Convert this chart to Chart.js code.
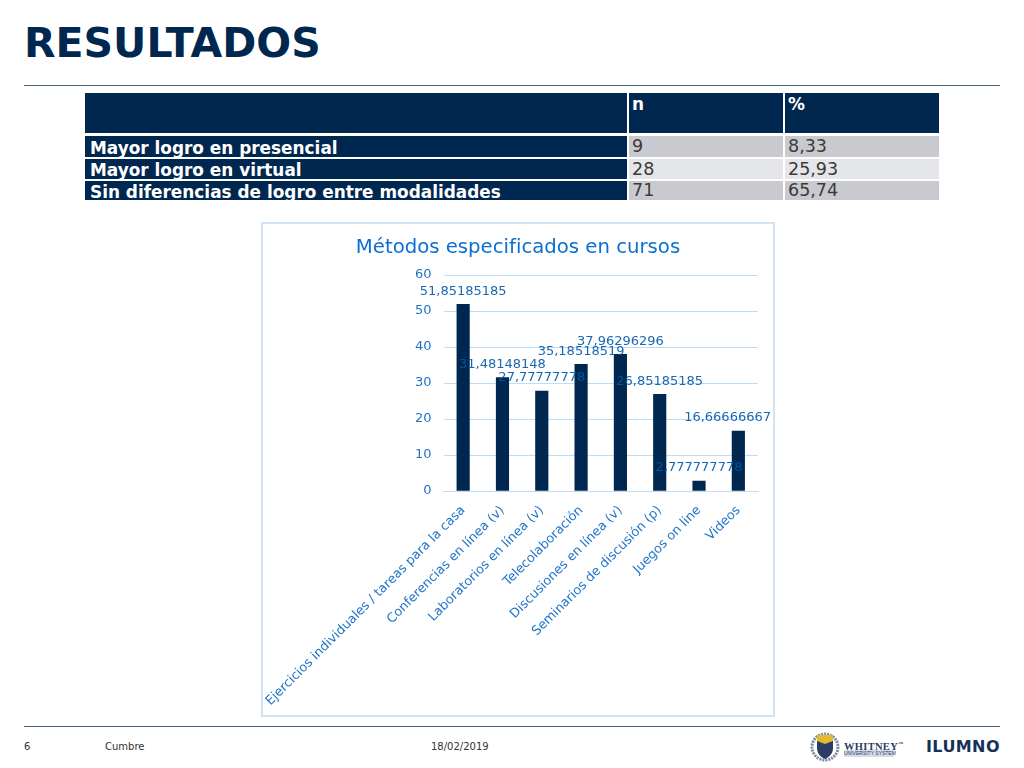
<!DOCTYPE html>
<html lang="es">
<head>
<meta charset="utf-8">
<title>Resultados</title>
<script src="https://cdn.jsdelivr.net/npm/chart.js@4"></script>
<style>
html, body { margin: 0; padding: 0; background: #fff; }
body { width: 1024px; height: 768px; position: relative; overflow: hidden; font-family: "DejaVu Sans", sans-serif; }
#heading { position: absolute; left: 24px; top: 18px; font-size: 41px; line-height: 50px; font-weight: bold; color: #00274f; }
.rule { position: absolute; left: 24px; width: 976px; height: 1px; background: #4a6480; }
#results { position: absolute; left: 85px; top: 93px; width: 854px; height: 108px; }
.cell { position: absolute; box-sizing: border-box; padding-left: 3px; font-size: 17.5px; color: #3a3a3a; white-space: nowrap; }
.cell.head { background: #00274f; color: #fff; font-weight: bold; font-size: 16.9px; }
.cell.rowName { padding-left: 5px; }
#chartBox { position: absolute; left: 261px; top: 222px; width: 510px; height: 491px; border: 2px solid #cfe3f5; }
#chartBox canvas { display: block; }
.foot { position: absolute; top: 741px; font-size: 10px; color: #333; }
#crest { position: absolute; left: 810px; top: 732px; }
#whitney { position: absolute; left: 844px; top: 738px; font-family: "Liberation Serif", serif; font-size: 10.5px; font-weight: bold; color: #2b3d63; letter-spacing: 0.3px; line-height: 11px; }
#whitneySub { position: absolute; left: 844px; top: 750px; width: 50px; font-family: "Liberation Sans", sans-serif; font-size: 5px; line-height: 7px; text-align: center; color: #2b3d63; background: #d5dbe6; white-space: nowrap; }
#ilumno { position: absolute; left: 926px; top: 737px; font-size: 16px; line-height: 20px; font-weight: bold; color: #16325a; letter-spacing: 0.4px; }
</style>
</head>
<body>
<div id="heading">RESULTADOS</div>
<div class="rule" style="top:85px"></div>
<div id="results"></div>
<div id="chartBox"><canvas id="myChart" width="510" height="491"></canvas></div>
<div class="rule" style="top:726px"></div>
<div class="foot" style="left:24px">6</div>
<div class="foot" style="left:105px">Cumbre</div>
<div class="foot" style="left:431px">18/02/2019</div>
<svg id="crest" width="30" height="30" viewBox="0 0 30 30">
  <circle cx="15" cy="15" r="13" fill="none" stroke="#7d8ba3" stroke-width="3" stroke-dasharray="2 1"/>
  <path d="M7 3h16v13c0 6-4 9-8 11c-4-2-8-5-8-11z" fill="#2b3d63"/>
  <path d="M7 3h16v6l-8 3l-8-3z" fill="#e3bb2f"/>
</svg>
<div id="whitney">WHITNEY<sup style="font-size:5px">™</sup></div>
<div id="whitneySub">UNIVERSITY SYSTEM</div>
<div id="ilumno">ILUMNO</div>

<script>
const categories = [
    'Ejercicios individuales / tareas para la casa',
    'Conferencias en línea (v)',
    'Laboratorios en línea (v)',
    'Telecolaboración',
    'Discusiones en línea (v)',
    'Seminarios de discusión (p)',
    'Juegos on line',
    'Videos'
];
const percentages = [51.85185185, 31.48148148, 27.77777778, 35.18518519, 37.96296296, 26.85185185, 2.777777778, 16.66666667];
const yTicks = [0, 10, 20, 30, 40, 50, 60];

const tableColumns = ['', 'n', '%'];
const tableRows = ['Mayor logro en presencial', 'Mayor logro en virtual', 'Sin diferencias de logro entre modalidades'];
const tableN = ['9', '28', '71'];
const tablePct = ['8,33', '25,93', '65,74'];

// table, laid out by hand to sit where the slide has it
const colX = [0, 544, 700];
const colW = [542, 154, 154];
const rowY = [43, 66, 88];
const rowH = [21, 20, 19];
const rowBg = ['#c9cacf', '#e5e6e9', '#c9cacf'];
const results = document.getElementById('results');

function addCell(text, x, y, w, h, cls, bg) {
    const cell = document.createElement('div');
    cell.className = 'cell ' + cls;
    cell.textContent = text;
    cell.style.cssText = `left:${x}px;top:${y}px;width:${w}px;height:${h}px;line-height:${h}px;`;
    if (bg) cell.style.background = bg;
    results.appendChild(cell);
    return cell;
}

tableColumns.forEach((c, i) => {
    addCell(c, colX[i], 0, colW[i], 40, 'head').style.lineHeight = '22px';
});
tableRows.forEach((r, i) => {
    // row names sit a little lower than the numbers in the slide
    addCell(r, colX[0], rowY[i], colW[0], rowH[i], 'head rowName').style.lineHeight = (rowH[i] + 3) + 'px';
    addCell(tableN[i], colX[1], rowY[i], colW[1], rowH[i], '', rowBg[i]);
    addCell(tablePct[i], colX[2], rowY[i], colW[2], rowH[i], '', rowBg[i]);
});

// value labels above the bars, comma decimals like the slide
const barValueLabels = {
    id: 'barValueLabels',
    afterDatasetsDraw(chart) {
        const c = chart.ctx;
        const meta = chart.getDatasetMeta(0);
        c.save();
        c.font = '13px "DejaVu Sans"';
        c.fillStyle = 'rgba(0, 88, 170, 0.9)';
        c.textAlign = 'center';
        c.textBaseline = 'middle';
        meta.data.forEach((bar, i) => {
            const text = String(percentages[i]).replace('.', ',');
            // the last label gets pushed back inside the box
            const half = c.measureText(text).width / 2;
            c.fillText(text, Math.min(bar.x, chart.width - half - 2), bar.y - 13);
        });
        c.restore();
    }
};

const ctx = document.getElementById('myChart');
const myChart = new Chart(ctx, {
    type: 'bar',
    data: {
        labels: categories,
        datasets: [{
            data: percentages,
            backgroundColor: '#00274f',
            barThickness: 12.5
        }]
    },
    options: {
        responsive: false,
        animation: false,
        plugins: {
            legend: { display: false },
            tooltip: { enabled: false },
            title: {
                display: true,
                text: 'Métodos especificados en cursos',
                color: '#0b6fd2',
                font: { family: '"DejaVu Sans"', size: 19.7, weight: 'normal' },
                padding: { top: 12, bottom: 15.4 }
            }
        },
        scales: {
            x: {
                grid: { display: false },
                border: { color: '#bcdcf7' },
                afterFit(scale) {
                    scale.height = 224;
                    scale.paddingLeft = 0;
                    scale.paddingRight = 15;
                },
                ticks: {
                    color: '#1f74c9',
                    font: { family: '"DejaVu Sans"', size: 12.8 },
                    autoSkip: false,
                    minRotation: 45,
                    maxRotation: 45,
                    padding: 4
                }
            },
            y: {
                min: 0,
                max: 60,
                grid: { color: '#bcdcf7', drawTicks: false },
                border: { display: false },
                afterFit(scale) { scale.width = 180.5; },
                afterBuildTicks(scale) { scale.ticks = yTicks.map(v => ({ value: v })); },
                ticks: {
                    color: '#1f74c9',
                    font: { family: '"DejaVu Sans"', size: 13 },
                    padding: 12
                }
            }
        }
    },
    plugins: [barValueLabels]
});
</script>
</body>
</html>
